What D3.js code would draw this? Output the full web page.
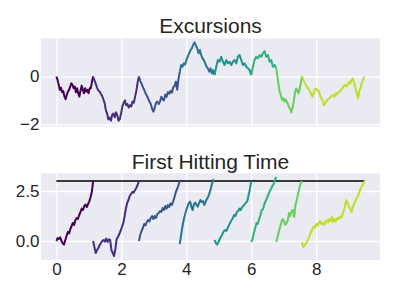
<!DOCTYPE html>
<html>
<head>
<meta charset="utf-8">
<script src="https://cdn.jsdelivr.net/npm/d3@7"></script>
<style>
	body { margin: 0; background: #ffffff; }
	svg text { font-family: "Liberation Sans", Arial, sans-serif; fill: #262626; }
</style>
</head>
<body>
<div id="chart"></div>
<script>
'use strict';

// segment boundaries (first hitting times of the level)
const hitTimes = [0, 1.13, 2.54, 3.80, 4.87, 6.00, 6.77, 7.56, 9.49];
const level    = 3;

const xTicks   = [0, 2, 4, 6, 8];
const excTicks = [-2, 0];
const hitTicks = [0, 2.5];

// top panel : excursions
const exc1 = [0, -0.15, -0.35, -0.56, -0.47, -0.66, -0.61, -0.84, -0.95, -0.77, -0.63, -0.56, -0.42, -0.28, -0.35, -0.49, -0.42, -0.66, -0.49, -0.70, -0.84, -0.60, -0.38, -0.56, -0.70, -0.49, -0.63, -0.56, -0.70, -0.49, -0.49, -0.21, 0];
const exc2 = [0, -0.15, -0.30, -0.45, -0.58, -0.62, -0.72, -0.80, -0.95, -1.10, -1.40, -1.55, -1.80, -1.72, -1.85, -1.60, -1.55, -1.70, -1.50, -1.62, -1.85, -1.78, -1.55, -1.25, -1.10, -1.00, -1.20, -1.15, -1.30, -1.20, -1.25, -1.05, -1.10, -0.85, -0.60, -0.25, 0];
const exc3 = [0, -0.18, -0.30, -0.45, -0.55, -0.70, -0.80, -0.92, -1.05, -1.15, -1.35, -1.47, -1.30, -1.10, -1.05, -1.15, -1.05, -0.85, -0.95, -1.00, -0.75, -0.85, -0.65, -0.72, -0.60, -0.68, -0.45, -0.40, -0.22, -0.55, -0.10, 0.20];
const exc4 = [0.20, 0.48, 0.41, 0.55, 0.50, 0.70, 0.85, 0.97, 1.11, 1.18, 1.32, 1.43, 1.30, 1.18, 0.97, 1.11, 0.90, 0.76, 0.69, 0.55, 0.41, 0.34, 0.20, 0.34, 0.13, 0.27, 0.06];
const exc5 = [0.06, 0.41, 0.69, 0.62, 0.83, 0.62, 0.48, 0.69, 0.55, 0.62, 0.48, 0.62, 0.69, 0.55, 0.83, 0.90, 0.69, 0.48, 0.55, 0.41, 0.34, 0.27, 0.06];
const exc6 = [0.06, 0.41, 0.69, 0.83, 0.76, 0.90, 0.83, 0.97, 1.06, 0.83, 0.90, 0.62, 0.69, 0.41, 0.48, 0.34];
const exc7 = [0.34, 0.00, -0.35, -0.65, -0.80, -0.98, -0.90, -1.05, -0.95, -1.05, -1.15, -1.30, -1.35, -1.50, -1.30, -1.05, -0.70, -0.50, -0.55, -0.70, -0.55, -0.30, 0];
const exc8 = [0, -0.10, -0.25, -0.35, -0.45, -0.50, -0.60, -0.72, -0.84, -0.70, -0.52, -0.50, -0.58, -0.62, -0.80, -0.92, -1.00, -1.20, -1.10, -1.02, -0.95, -0.92, -0.85, -0.80, -0.78, -0.85, -0.70, -0.75, -0.65, -0.62, -0.55, -0.50, -0.40, -0.35, -0.42, -0.35, -0.22, -0.30, -0.15, -0.08, -0.25, -0.50, -0.70, -0.91, -0.60, -0.45, -0.25, -0.10, 0];

// bottom panel : first hitting time
const hit1 = [0.00, 0.15, 0.10, 0.18, 0.00, -0.12, -0.18, 0.05, 0.25, 0.45, 0.38, 0.60, 0.75, 0.90, 0.80, 1.05, 1.15, 1.10, 1.30, 1.45, 1.62, 1.55, 1.75, 1.82, 1.70, 1.85, 1.98, 2.20, 2.45, 3.00];
const hit2 = [0.00, -0.30, -0.60, -0.45, -0.35, -0.20, -0.10, 0.00, 0.05, -0.03, 0.12, -0.05, 0.08, 0.05, -0.45, -0.60, -0.75, -0.40, 0.10, 0.20, 0.35, 0.50, 0.70, 0.88, 1.20, 1.60, 1.90, 2.05, 2.25, 2.35, 2.45, 2.42, 2.55, 2.65, 2.80, 3.00];
const hit3 = [0.00, 0.30, 0.50, 0.65, 0.85, 0.78, 0.95, 1.05, 0.98, 1.15, 1.25, 1.10, 1.25, 1.15, 1.35, 1.40, 1.50, 1.45, 1.65, 1.55, 1.75, 1.62, 1.80, 1.70, 1.88, 1.80, 1.98, 2.20, 2.45, 2.60, 2.80, 3.00];
const hit4 = [-0.15, 0.30, 0.70, 1.05, 1.30, 1.55, 1.72, 1.90, 1.97, 1.70, 1.55, 1.85, 1.92, 1.80, 1.72, 1.90, 2.05, 1.95, 2.00, 1.80, 1.95, 2.10, 2.20, 2.38, 2.60, 2.85, 3.05, 3.00];
const hit5 = [0.05, -0.10, -0.18, -0.05, 0.10, 0.22, 0.35, 0.48, 0.55, 0.50, 0.65, 0.80, 0.92, 1.05, 1.15, 1.30, 1.25, 1.45, 1.50, 1.62, 1.55, 1.70, 1.75, 1.85, 1.92, 2.00, 2.30, 2.60, 3.00];
const hit6 = [-0.05, 0.10, 0.40, 0.65, 0.90, 0.85, 1.10, 1.30, 1.55, 1.60, 1.85, 2.00, 2.15, 2.30, 2.50, 2.60, 2.75, 2.85, 3.05, 3.20];
const hit7 = [-0.05, 0.20, 0.45, 0.70, 0.95, 1.10, 1.00, 0.80, 0.90, 1.05, 1.40, 1.25, 1.50, 1.55, 1.20, 1.80, 2.05, 2.35, 2.65, 2.85, 3.00];
const hit8 = [-0.05, -0.30, -0.22, -0.15, 0.00, 0.10, 0.30, 0.45, 0.60, 0.72, 0.65, 0.85, 0.78, 0.90, 1.00, 0.85, 0.90, 0.80, 0.95, 1.05, 0.92, 1.10, 1.00, 1.20, 0.95, 1.10, 0.98, 1.15, 1.10, 1.22, 1.15, 1.30, 1.50, 1.75, 2.05, 1.90, 1.70, 1.60, 1.45, 1.70, 1.85, 2.00, 2.15, 2.25, 2.45, 2.60, 2.75, 2.88, 3.00];

const excursions = [exc1, exc2, exc3, exc4, exc5, exc6, exc7, exc8];
const hittings   = [hit1, hit2, hit3, hit4, hit5, hit6, hit7, hit8];


const W      = 399;
const H      = 299;
const left   = 41;
const right  = 380;
const bg     = "#eaeaf2";

const x = d3.scaleLinear().domain([-0.475, 9.965]).range([left, right]);

const segmentColor = i => d3.interpolateViridis(i * 0.9 / 7);

// spread a segment's values evenly over its time interval
const toPoints = (values, t0, t1) => values
	.map((v, i) => [t0 + (t1 - t0) * i / (values.length - 1), v]);


const drawPanel = (svg, opts) =>
{
	const y = d3.scaleLinear().domain(opts.yDomain).range([opts.bottom, opts.top]);

	svg.append("rect")
		.attr("x", left)
		.attr("y", opts.top)
		.attr("width", right - left)
		.attr("height", opts.bottom - opts.top)
		.attr("fill", bg);

	const xAxis = svg.append("g")
		.attr("transform", "translate(0," + opts.bottom + ")")
		.call(d3.axisBottom(x)
			.tickValues(xTicks)
			.tickSize(-(opts.bottom - opts.top))
			.tickPadding(3)
			.tickFormat(opts.showX ? d3.format("d") : () => ""));

	const yAxis = svg.append("g")
		.attr("transform", "translate(" + left + ",0)")
		.call(d3.axisLeft(y)
			.tickValues(opts.yTicks)
			.tickSize(-(right - left))
			.tickPadding(1.5)
			.tickFormat(d3.format(opts.yFormat)));

	[xAxis, yAxis].forEach(axis =>
	{
		axis.select(".domain").remove();
		axis.selectAll("line")
			.attr("stroke", "#ffffff")
			.attr("stroke-width", 1.3);
		axis.selectAll("text")
			.attr("font-size", 17)
			.attr("font-family", null)
			.attr("fill", "#262626");
	});

	const line = d3.line()
		.x(p => x(p[0]))
		.y(p => y(p[1]));

	if (opts.level !== undefined)
	{
		svg.append("line")
			.attr("x1", x(hitTimes[0]))
			.attr("x2", x(hitTimes[hitTimes.length - 1]))
			.attr("y1", y(opts.level))
			.attr("y2", y(opts.level))
			.attr("stroke", "#3a3a3a")
			.attr("stroke-width", 2);
	}

	svg.append("g")
		.selectAll("path")
		.data(opts.segments)
		.enter()
			.append("path")
			.attr("d", (values, i) => line(toPoints(values, hitTimes[i], hitTimes[i + 1])))
			.attr("fill", "none")
			.attr("stroke", (values, i) => segmentColor(i))
			.attr("stroke-width", 2)
			.attr("stroke-linejoin", "round");

	svg.append("text")
		.attr("x", (left + right) / 2)
		.attr("y", opts.titleY)
		.attr("text-anchor", "middle")
		.attr("font-size", 21)
		.text(opts.title);
};


const svg = d3.select("#chart")
	.append("svg")
	.attr("width", W)
	.attr("height", H);

drawPanel(svg, {
	title    : "Excursions",
	titleY   : 33.3,
	top      : 38.3,
	bottom   : 126.7,
	yDomain  : [-2.1, 1.6],
	yTicks   : excTicks,
	yFormat  : "d",
	showX    : false,
	segments : excursions
});

drawPanel(svg, {
	title    : "First Hitting Time",
	titleY   : 169,
	top      : 173.3,
	bottom   : 260,
	yDomain  : [-0.95, 3.385],
	yTicks   : hitTicks,
	yFormat  : ".1f",
	showX    : true,
	level    : level,
	segments : hittings
});
</script>
</body>
</html>
